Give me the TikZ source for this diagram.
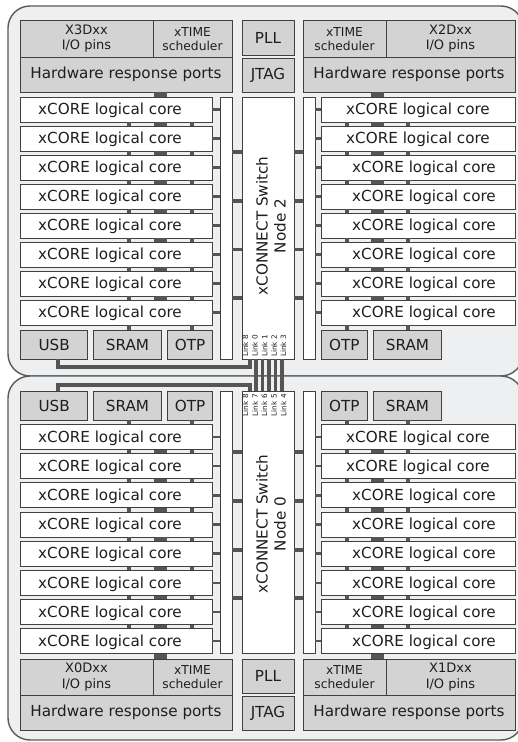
\documentclass[tikz,border=0pt]{standalone}
\usepackage{fontspec}
\setmainfont{DejaVu Sans}
\usetikzlibrary{calc}
\definecolor{chipbg}{RGB}{238,239,241}
\definecolor{boxgray}{RGB}{211,211,211}
\definecolor{edgec}{RGB}{64,64,64}
\definecolor{connc}{RGB}{85,85,85}
\definecolor{chipedge}{RGB}{90,90,90}
\definecolor{txt}{RGB}{30,30,30}
\begin{document}
\begin{tikzpicture}[x=1pt,y=-1pt,
  every node/.style={text=txt, inner sep=0pt},
  hw/.style={draw=edgec, fill=boxgray, line width=0.9pt, font=\fontsize{15.2}{17}\selectfont},
  hwsmall/.style={hw, align=center, font=\fontsize{13}{15.5}\selectfont},
  hwtiny/.style={hw, align=center, font=\fontsize{12.3}{14}\selectfont},
  corebox/.style={draw=edgec, fill=white, line width=0.9pt, minimum height=25pt},
  corelbl/.style={anchor=base west, font=\fontsize{15.2}{17}\selectfont},
  barbox/.style={draw=edgec, fill=white, line width=0.9pt, minimum width=12pt, minimum height=262pt},
  swbox/.style={draw=edgec, fill=white, line width=0.9pt, minimum width=52pt, minimum height=262pt},
  chip/.style={draw=chipedge, fill=chipbg, line width=1.4pt, rounded corners=22pt},
  thinlink/.style={draw=connc, line width=4pt},
  thicklink/.style={draw=connc, line width=12.5pt},
  stub/.style={draw=connc, line width=2.4pt},
  swlink/.style={draw=connc, line width=3.6pt},
  usbline/.style={draw=connc, line width=4pt},
  linkbar/.style={draw=connc, line width=3.2pt},
  linklbl/.style={font=\fontsize{7.3}{8}\selectfont, rotate=90},
  swlbl/.style={rotate=90, align=center, font=\fontsize{15.2}{18}\selectfont},
]
\fill[white] (0,0) rectangle (518,742);
\clip (0,0) rectangle (518,742);

% chip outlines
\draw[chip] (8,6) rectangle (523,376);
\draw[chip] (8,376) rectangle (523,740);

% ================= top chip (node 2) =================
\node[hwsmall, minimum width=133pt, minimum height=36.5pt] (io3) at (86.5,38.75) {X3Dxx\\I/O pins};
\node[hwtiny, minimum width=79pt, minimum height=36.5pt] (ts3) at (192.5,38.75) {xTIME\\scheduler};
\node[hw, minimum width=212pt, minimum height=35pt] (hrp3) at (126,74.5) {Hardware response ports};
\node[hw, minimum width=52pt, minimum height=34.5pt] (pll2) at (268,37.75) {PLL};
\node[hw, minimum width=52pt, minimum height=34pt] (jtag2) at (268,75) {JTAG};
\node[hwtiny, minimum width=83pt, minimum height=36.5pt] (ts2) at (344.5,38.75) {xTIME\\scheduler};
\node[hwsmall, minimum width=129pt, minimum height=36.5pt] (io2) at (450.5,38.75) {X2Dxx\\I/O pins};
\node[hw, minimum width=212pt, minimum height=35pt] (hrp2) at (409,74.5) {Hardware response ports};

\node[barbox] (lbt) at (226,228) {};
\node[swbox] (swt) at (268,228) {};
\node[barbox] (rbt) at (309,228) {};
\node[swlbl] (swtl) at (271,226) {xCONNECT Switch\\Node 2};

\foreach \k in {0,...,7} {
  \pgfmathsetmacro\cy{109.5+29*\k}
  \pgfmathsetmacro\rx{\k<2 ? 346 : 352}
  \node[corebox, minimum width=192pt] (Lt\k) at (116,\cy) {};
  \node[corelbl] (Ltl\k) at (38,\cy+5.3) {xCORE logical core};
  \node[corebox, minimum width=194pt] (Rt\k) at (418,\cy) {};
  \node[corelbl] (Rtl\k) at (\rx,\cy+5.3) {xCORE logical core};
  \draw[stub] (Lt\k.east) -- (Lt\k.east -| lbt.west);
  \draw[stub] (Rt\k.west) -- (Rt\k.west -| rbt.east);
}
\foreach \k/\n in {0/1,1/2,2/3,3/4,4/5,5/6,6/7} {
  \draw[thinlink] (128.5,0 |- Lt\k.south) -- (128.5,0 |- Lt\n.north);
  \draw[thicklink] (160.3,0 |- Lt\k.south) -- (160.3,0 |- Lt\n.north);
  \draw[thinlink] (192,0 |- Lt\k.south) -- (192,0 |- Lt\n.north);
  \draw[thinlink] (346.5,0 |- Rt\k.south) -- (346.5,0 |- Rt\n.north);
  \draw[thicklink] (377.5,0 |- Rt\k.south) -- (377.5,0 |- Rt\n.north);
  \draw[thinlink] (408,0 |- Rt\k.south) -- (408,0 |- Rt\n.north);
}
\draw[thicklink] (160.3,0 |- hrp3.south) -- (160.3,0 |- Lt0.north);
\draw[thicklink] (377.5,0 |- hrp2.south) -- (377.5,0 |- Rt0.north);
\foreach \y in {152,201,249.5,298} {
  \draw[swlink] (lbt.east |- 0,\y) -- (swt.west |- 0,\y);
  \draw[swlink] (rbt.west |- 0,\y) -- (swt.east |- 0,\y);
}

\node[hw, minimum width=67pt, minimum height=29pt] (usbt) at (54.2,344.5) {USB};
\node[hw, minimum width=68pt, minimum height=29pt] (sramLt) at (127.5,344.5) {SRAM};
\node[hw, minimum width=45pt, minimum height=29pt] (otpLt) at (190,344.5) {OTP};
\node[hw, minimum width=46pt, minimum height=29pt] (otpRt) at (344.3,344.5) {OTP};
\node[hw, minimum width=67.6pt, minimum height=29pt] (sramRt) at (407.5,344.5) {SRAM};
\draw[thinlink] (128.5,0 |- Lt7.south) -- (128.5,0 |- sramLt.north);
\draw[thinlink] (192,0 |- Lt7.south) -- (192,0 |- otpLt.north);
\draw[thinlink] (346.5,0 |- Rt7.south) -- (346.5,0 |- otpRt.north);
\draw[thinlink] (408,0 |- Rt7.south) -- (408,0 |- sramRt.north);

% ================= bottom chip (node 0) =================
\node[hw, minimum width=67pt, minimum height=29pt] (usbb) at (54.2,405.5) {USB};
\node[hw, minimum width=68pt, minimum height=29pt] (sramLb) at (127.5,405.5) {SRAM};
\node[hw, minimum width=45pt, minimum height=29pt] (otpLb) at (190,405.5) {OTP};
\node[hw, minimum width=46pt, minimum height=29pt] (otpRb) at (344.3,405.5) {OTP};
\node[hw, minimum width=67.6pt, minimum height=29pt] (sramRb) at (407.5,405.5) {SRAM};

\node[barbox] (lbb) at (226,522.5) {};
\node[swbox] (swb) at (268,522.5) {};
\node[barbox] (rbb) at (309,522.5) {};
\node[swlbl] (swbl) at (271,524) {xCONNECT Switch\\Node 0};

\foreach \k in {0,...,7} {
  \pgfmathsetmacro\cy{437+29.15*\k}
  \pgfmathsetmacro\rx{\k<2 ? 346 : 352}
  \node[corebox, minimum width=192pt] (Lb\k) at (116,\cy) {};
  \node[corelbl] (Lbl\k) at (38,\cy+5.3) {xCORE logical core};
  \node[corebox, minimum width=194pt] (Rb\k) at (418,\cy) {};
  \node[corelbl] (Rbl\k) at (\rx,\cy+5.3) {xCORE logical core};
  \draw[stub] (Lb\k.east) -- (Lb\k.east -| lbb.west);
  \draw[stub] (Rb\k.west) -- (Rb\k.west -| rbb.east);
}
\foreach \k/\n in {0/1,1/2,2/3,3/4,4/5,5/6,6/7} {
  \draw[thinlink] (128.5,0 |- Lb\k.south) -- (128.5,0 |- Lb\n.north);
  \draw[thicklink] (160.3,0 |- Lb\k.south) -- (160.3,0 |- Lb\n.north);
  \draw[thinlink] (192,0 |- Lb\k.south) -- (192,0 |- Lb\n.north);
  \draw[thinlink] (346.5,0 |- Rb\k.south) -- (346.5,0 |- Rb\n.north);
  \draw[thicklink] (377.5,0 |- Rb\k.south) -- (377.5,0 |- Rb\n.north);
  \draw[thinlink] (408,0 |- Rb\k.south) -- (408,0 |- Rb\n.north);
}
\draw[thinlink] (128.5,0 |- sramLb.south) -- (128.5,0 |- Lb0.north);
\draw[thinlink] (192,0 |- otpLb.south) -- (192,0 |- Lb0.north);
\draw[thinlink] (346.5,0 |- otpRb.south) -- (346.5,0 |- Rb0.north);
\draw[thinlink] (408,0 |- sramRb.south) -- (408,0 |- Rb0.north);
\foreach \y in {451.7,501,550,598} {
  \draw[swlink] (lbb.east |- 0,\y) -- (swb.west |- 0,\y);
  \draw[swlink] (rbb.west |- 0,\y) -- (swb.east |- 0,\y);
}

\node[hwsmall, minimum width=133pt, minimum height=36pt] (io0) at (86.5,677) {X0Dxx\\I/O pins};
\node[hwtiny, minimum width=79pt, minimum height=36pt] (ts0) at (192.5,677) {xTIME\\scheduler};
\node[hw, minimum width=212pt, minimum height=35pt] (hrp0) at (126,712.5) {Hardware response ports};
\node[hw, minimum width=52pt, minimum height=33.5pt] (pll0) at (268,676.25) {PLL};
\node[hw, minimum width=52pt, minimum height=33.5pt] (jtag0) at (268,713.25) {JTAG};
\node[hwtiny, minimum width=83pt, minimum height=36pt] (ts1) at (344.5,677) {xTIME\\scheduler};
\node[hwsmall, minimum width=129pt, minimum height=36pt] (io1) at (450.5,677) {X1Dxx\\I/O pins};
\node[hw, minimum width=212pt, minimum height=35pt] (hrp1) at (409,712.5) {Hardware response ports};
\draw[thicklink] (160.3,0 |- Lb7.south) -- (160.3,0 |- io0.north);
\draw[thicklink] (377.5,0 |- Rb7.south) -- (377.5,0 |- ts1.north);

% ================= inter-chip links =================
\foreach \x in {256,262.5,269,275.5,282} {
  \draw[linkbar] (\x,0 |- swt.south) -- (\x,0 |- swb.north);
}
\draw[usbline] (57.5,0 |- usbt.south) -- (57.5,366.5) -- (250,366.5) -- (250,0 |- swt.south);
\draw[usbline] (57.5,0 |- usbb.north) -- (57.5,385) -- (250,385) -- (250,0 |- swb.north);

\foreach \x/\t in {245.5/8,255/0,264.5/1,274/2,283.5/3} {
  \node[linklbl, anchor=west] (lkt\t) at (\x,357) {Link \t};
}
\foreach \x/\t in {245.5/8,255/7,264.5/6,274/5,283.5/4} {
  \node[linklbl, anchor=east] (lkb\t) at (\x,394) {Link \t};
}
\end{tikzpicture}
\end{document}
